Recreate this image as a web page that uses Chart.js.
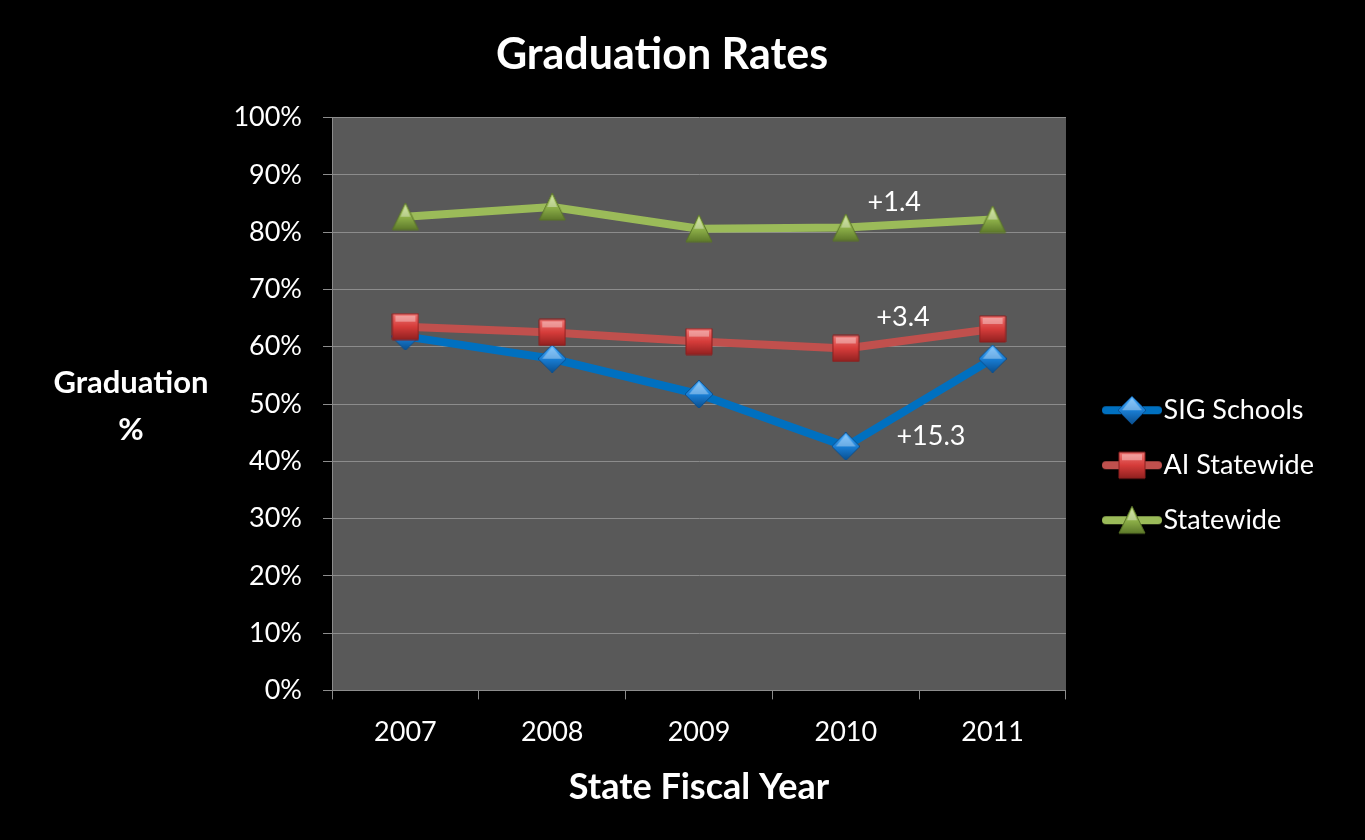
<!DOCTYPE html>
<html>
<head>
<meta charset="utf-8">
<script src="https://cdn.jsdelivr.net/npm/chart.js@4.4.0/dist/chart.umd.min.js"></script>
<style>
  html, body { margin: 0; padding: 0; background: #000; }
  #wrap { width: 1365px; height: 840px; position: relative; }
</style>
</head>
<body>
<div id="wrap"><canvas id="myChart"></canvas></div>
<script>
const years = ["2007", "2008", "2009", "2010", "2011"];
const sigSchools = [61.8, 57.9, 51.7, 42.6, 57.9];
const aiStatewide = [63.5, 62.5, 60.9, 59.7, 63.1];
const statewide = [82.7, 84.4, 80.6, 80.8, 82.2];
const yTicks = [0, 10, 20, 30, 40, 50, 60, 70, 80, 90, 100];
// change notes: text, x position (category index), y value
const notes = [
  { text: "+1.4", x: 3.33, y: 85.3 },
  { text: "+3.4", x: 3.39, y: 65.2 },
  { text: "+15.3", x: 3.58, y: 44.3 },
];

const FONT = "Lato, 'Open Sans', sans-serif";

// 3d-ish marker pictures
const makeMarker = (shape, light, base, dark) => {
  const c = document.createElement("canvas");
  const s = 28;
  c.width = s;
  c.height = s;
  const ctx = c.getContext("2d");
  const g = ctx.createLinearGradient(0, 0, 0, s);
  g.addColorStop(0, light);
  g.addColorStop(0.5, base);
  g.addColorStop(1, dark);
  ctx.fillStyle = g;
  ctx.beginPath();
  if (shape === "diamond") {
    ctx.moveTo(s / 2, 0);
    ctx.lineTo(s, s / 2);
    ctx.lineTo(s / 2, s);
    ctx.lineTo(0, s / 2);
  } else if (shape === "square") {
    ctx.rect(1, 1, s - 2, s - 2);
  } else {
    ctx.moveTo(s / 2, 0);
    ctx.lineTo(s - 1, s - 1);
    ctx.lineTo(1, s - 1);
  }
  ctx.closePath();
  ctx.fill();
  ctx.strokeStyle = dark;
  ctx.lineWidth = 1;
  ctx.stroke();
  // facet highlight
  ctx.globalAlpha = 0.35;
  ctx.fillStyle = "#fff";
  ctx.beginPath();
  if (shape === "diamond") {
    ctx.moveTo(s / 2, 2);
    ctx.lineTo(s - 4, s / 2);
    ctx.lineTo(4, s / 2);
  } else if (shape === "square") {
    ctx.rect(4, 3, s - 8, 6);
  } else {
    ctx.moveTo(s / 2, 3);
    ctx.lineTo(s / 2 + 5, s / 2);
    ctx.lineTo(s / 2 - 5, s / 2);
  }
  ctx.closePath();
  ctx.fill();
  return c;
};

// legend picture: line + marker, drawn in the right part of the canvas
const legendIcon = (marker, color) => {
  const c = document.createElement("canvas");
  c.width = 82;
  c.height = 30;
  const ctx = c.getContext("2d");
  ctx.strokeStyle = color;
  ctx.lineWidth = 8;
  ctx.lineCap = "round";
  ctx.beginPath();
  ctx.moveTo(25, 15);
  ctx.lineTo(77, 15);
  ctx.stroke();
  ctx.drawImage(marker, 37, 1);
  return c;
};

const blueMarker = makeMarker("diamond", "#4fb0ff", "#1a7fd6", "#0a4f8f");
const redMarker = makeMarker("square", "#f07a78", "#d63c3a", "#8c1f1e");
const greenMarker = makeMarker("triangle", "#c2dc80", "#8fb24a", "#5a7528");
const legendIcons = [
  legendIcon(blueMarker, "#0070C0"),
  legendIcon(redMarker, "#C0504D"),
  legendIcon(greenMarker, "#9BBB59"),
];

const plotBackground = {
  id: "plotBackground",
  beforeDraw(chart) {
    const { ctx, chartArea } = chart;
    ctx.save();
    ctx.fillStyle = "#595959";
    ctx.fillRect(chartArea.left, chartArea.top, chartArea.right - chartArea.left, chartArea.bottom - chartArea.top);
    ctx.restore();
  },
};

const extraText = {
  id: "extraText",
  afterDatasetsDraw(chart) {
    const { ctx, scales } = chart;
    ctx.save();
    ctx.fillStyle = "#fff";
    ctx.textAlign = "center";
    ctx.textBaseline = "middle";
    ctx.font = "27px " + FONT;
    notes.forEach((n) => {
      ctx.fillText(n.text, scales.x.getPixelForValue(n.x), scales.y.getPixelForValue(n.y));
    });
    // horizontal y axis title
    ctx.font = "bold 31px " + FONT;
    ctx.fillText("Graduation", 131, 383);
    ctx.fillText("%", 131, 430);
    ctx.restore();
  },
};

const chart = new Chart(document.getElementById("myChart"), {
  type: "line",
  data: {
    labels: years,
    datasets: [
      {
        label: "SIG Schools",
        data: sigSchools,
        borderColor: "#0070C0",
        backgroundColor: "#0070C0",
        pointStyle: blueMarker,
        order: 3,
      },
      {
        label: "AI Statewide",
        data: aiStatewide,
        borderColor: "#C0504D",
        backgroundColor: "#C0504D",
        pointStyle: redMarker,
        order: 2,
      },
      {
        label: "Statewide",
        data: statewide,
        borderColor: "#9BBB59",
        backgroundColor: "#9BBB59",
        pointStyle: greenMarker,
        order: 1,
      },
    ],
  },
  options: {
    responsive: true,
    maintainAspectRatio: false,
    animation: false,
    elements: {
      line: { borderWidth: 8, tension: 0, borderCapStyle: "round", borderJoinStyle: "round" },
      point: { radius: 14 },
    },
    layout: { padding: { top: 0, right: 41, bottom: 24, left: 0 } },
    scales: {
      x: {
        offset: true,
        grid: { offset: true, drawOnChartArea: false, color: "#8c8c8c", tickLength: 9 },
        border: { color: "#8c8c8c", width: 1 },
        ticks: { color: "#fff", font: { family: FONT, size: 27 }, padding: 17 },
        title: {
          display: true,
          text: "State Fiscal Year",
          color: "#fff",
          font: { family: FONT, size: 36, weight: "bold" },
          padding: { top: 0, bottom: 7 },
        },
      },
      y: {
        min: 0,
        max: 100,
        afterBuildTicks(scale) {
          scale.ticks = yTicks.map((v) => ({ value: v }));
        },
        afterFit(scale) {
          scale.width = 332;
        },
        grid: { color: "#8c8c8c", tickLength: 9 },
        border: { color: "#8c8c8c", width: 1 },
        ticks: {
          color: "#fff",
          font: { family: FONT, size: 27 },
          padding: 21,
          callback: (v) => v + "%",
        },
      },
    },
    plugins: {
      title: {
        display: true,
        text: "Graduation Rates",
        color: "#fff",
        font: { family: FONT, size: 43, weight: "bold" },
        padding: { top: 29, bottom: 37 },
      },
      legend: {
        display: true,
        position: "right",
        title: { display: true, text: "", padding: { top: 0, bottom: 100 } },
        labels: {
          color: "#fff",
          font: { family: FONT, size: 27 },
          usePointStyle: true,
          pointStyleWidth: 56,
          padding: 28,
          sort: (a, b) => a.datasetIndex - b.datasetIndex,
          generateLabels(chart) {
            const items = Chart.defaults.plugins.legend.labels.generateLabels(chart);
            items.forEach((it) => {
              it.pointStyle = legendIcons[it.datasetIndex];
            });
            return items;
          },
        },
      },
      tooltip: { enabled: false },
    },
  },
  plugins: [plotBackground, extraText],
});
</script>
</body>
</html>
